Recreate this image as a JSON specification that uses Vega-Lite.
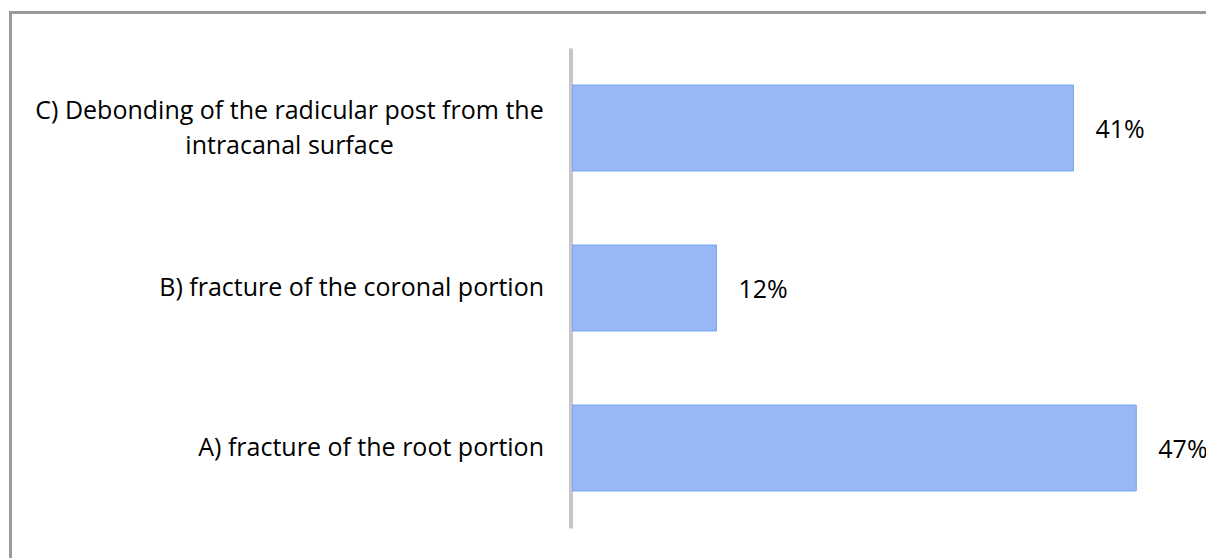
{
  "$schema": "https://vega.github.io/schema/vega-lite/v6.json",
  "autosize": "none",
  "width": 1195.5,
  "height": 545.5,
  "padding": {"left": 10.5, "top": 12.5, "right": 0, "bottom": 0},
  "background": "white",
  "config": {
    "view": {"stroke": "#9a9a9a", "strokeWidth": 3, "strokeDash": [1195.5, 1741, 545.5, 0], "strokeCap": "square"}
  },
  "data": {
    "values": [
      {"cause": "C) Debonding of the radicular post from the intracanal surface", "share": 0.414},
      {"cause": "B) fracture of the coronal portion", "share": 0.119},
      {"cause": "A) fracture of the root portion", "share": 0.466}
    ]
  },
  "encoding": {
    "y": {
      "field": "cause",
      "type": "nominal",
      "sort": null,
      "scale": {"range": [35.5, 515.5], "paddingInner": 0.4625, "paddingOuter": 0.23125},
      "axis": {
        "title": null,
        "orient": "left",
        "offset": -560,
        "domainColor": "#c6c6c6",
        "domainWidth": 4,
        "ticks": false,
        "tickSize": 0,
        "labelAlign": {"condition": {"test": "indexof(datum.value, 'C)') == 0", "value": "center"}, "value": "right"},
        "labelPadding": {"condition": {"test": "indexof(datum.value, 'C)') == 0", "value": 281.5}, "value": 27},
        "labelOffset": {"condition": {"test": "indexof(datum.value, 'C)') == 0", "value": -17.5}, "value": 0},
        "labelFont": "Open Sans",
        "labelFontSize": 25,
        "labelColor": "#000000",
        "labelLimit": 0,
        "labelLineHeight": 35,
        "labelExpr": "indexof(datum.value, 'C)') == 0 ? ['C) Debonding of the radicular post from the', 'intracanal surface'] : datum.value"
      }
    },
    "x": {
      "field": "share",
      "type": "quantitative",
      "scale": {"domain": [-0.4645, 0.5236], "nice": false, "zero": false},
      "axis": null
    }
  },
  "layer": [
    {
      "mark": {"type": "bar", "color": "#97b7f7", "stroke": "#7aa3f2", "strokeWidth": 1},
      "encoding": {"x2": {"datum": 0}}
    },
    {
      "mark": {"type": "text", "align": "left", "baseline": "middle", "dx": 22, "dy": 2, "font": "Open Sans", "fontSize": 25, "color": "#000000"},
      "encoding": {"text": {"field": "share", "type": "quantitative", "format": ".0%"}}
    }
  ]
}
